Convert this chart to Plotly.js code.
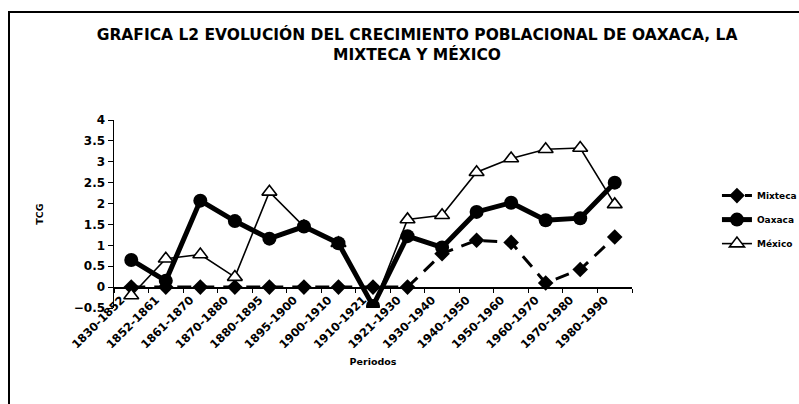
<!DOCTYPE html>
<html>
<head>
<meta charset="utf-8">
<script src="https://cdn.plot.ly/plotly-3.0.1.min.js"></script>
<style>
  html, body { margin: 0; padding: 0; background: #fff; }
  #wrap { position: relative; width: 799px; height: 404px; overflow: hidden; }
  #chart { position: absolute; left: 0; top: 0; width: 799px; height: 404px; }
  #frame { position: absolute; left: 8px; top: 11px; width: 820px; height: 420px;
           border-left: 2px solid #000; border-top: 2px solid #000; pointer-events: none; }
</style>
</head>
<body>
<div id="wrap">
  <div id="chart"></div>
  <div id="frame"></div>
</div>
<script>
const periodos = ['1830-1852','1852-1861','1861-1870','1870-1880','1880-1895','1895-1900',
  '1900-1910','1910-1921','1921-1930','1930-1940','1940-1950','1950-1960','1960-1970',
  '1970-1980','1980-1990'];
const mixteca = [0, 0, 0, 0, 0, 0, 0, 0, 0, 0.8, 1.12, 1.07, 0.1, 0.42, 1.2];
const oaxaca  = [0.65, 0.15, 2.07, 1.58, 1.16, 1.45, 1.05, -0.45, 1.22, 0.95, 1.8, 2.02, 1.6, 1.65, 2.5];
const mexico  = [-0.2, 0.68, 0.78, 0.24, 2.28, 1.45, 1.05, -0.48, 1.62, 1.72, 2.75, 3.08, 3.3, 3.33, 1.98];
const nombres = ['Mixteca', 'Oaxaca', 'México'];

const FONT = 'DejaVu Sans, Arial, sans-serif';

const traces = [
  { x: periodos, y: mixteca, name: nombres[0], type: 'scatter', mode: 'lines+markers',
    line: { color: '#000', width: 3, dash: '14px,9px' },
    marker: { symbol: 'diamond', size: 12, color: '#000' },
    legendgroup: 'a', legendrank: 1 },
  { x: periodos, y: mexico, name: nombres[2], type: 'scatter', mode: 'lines+markers',
    line: { color: '#000', width: 1.6 },
    marker: { symbol: 'triangle-up', size: 13, color: '#fff', line: { color: '#000', width: 1.6 } },
    legendgroup: 'c', legendrank: 3 },
  { x: periodos, y: oaxaca, name: nombres[1], type: 'scatter', mode: 'lines+markers',
    line: { color: '#000', width: 5 },
    marker: { symbol: 'circle', size: 14, color: '#000' },
    legendgroup: 'b', legendrank: 2 }
];

const layout = {
  width: 799, height: 404,
  margin: { l: 114, r: 167, t: 120, b: 96, autoexpand: false },
  paper_bgcolor: 'rgba(0,0,0,0)', plot_bgcolor: 'rgba(0,0,0,0)',
  font: { family: FONT, color: '#000' },
  title: {
    text: '<b>GRAFICA L2 EVOLUCIÓN DEL CRECIMIENTO POBLACIONAL DE OAXACA, LA<br>MIXTECA Y MÉXICO</b>',
    font: { family: FONT, size: 15.5, color: '#000' },
    xref: 'container', x: 0.522, xanchor: 'center',
    yref: 'container', y: 1 - 40 / 404, yanchor: 'middle'
  },
  xaxis: {
    type: 'category', range: [-0.5, periodos.length - 0.5], anchor: 'free', position: 0.5 / 4.5,
    showline: true, linecolor: '#000', linewidth: 1.5,
    ticks: 'outside', ticklen: 4, tickcolor: '#000', tickson: 'boundaries',
    tickangle: -45, ticklabelshift: -10,
    tickfont: { family: FONT, size: 11.5, color: '#000', weight: 'bold' },
    showgrid: false, zeroline: false,
    title: { text: '<b>Periodos</b>', font: { family: FONT, size: 9.5 }, standoff: 8 }
  },
  yaxis: {
    range: [-0.5, 4], dtick: 0.5, tick0: 0,
    showline: true, linecolor: '#000', linewidth: 1.5,
    ticks: 'outside', ticklen: 5, tickcolor: '#000',
    tickfont: { family: FONT, size: 12, color: '#000', weight: 'bold' },
    showgrid: false, zeroline: false,
    title: { text: '<b>TCG</b>', font: { family: FONT, size: 9.5 }, standoff: 28 }
  },
  showlegend: true,
  legend: {
    x: 1.164, xanchor: 'left', y: 0.675, yanchor: 'top',
    traceorder: 'grouped', tracegroupgap: 5,
    font: { family: FONT, size: 9, color: '#000', weight: 'bold' },
    bgcolor: 'rgba(0,0,0,0)'
  }
};

Plotly.newPlot('chart', traces, layout, { displayModeBar: false, staticPlot: true });
</script>
</body>
</html>
